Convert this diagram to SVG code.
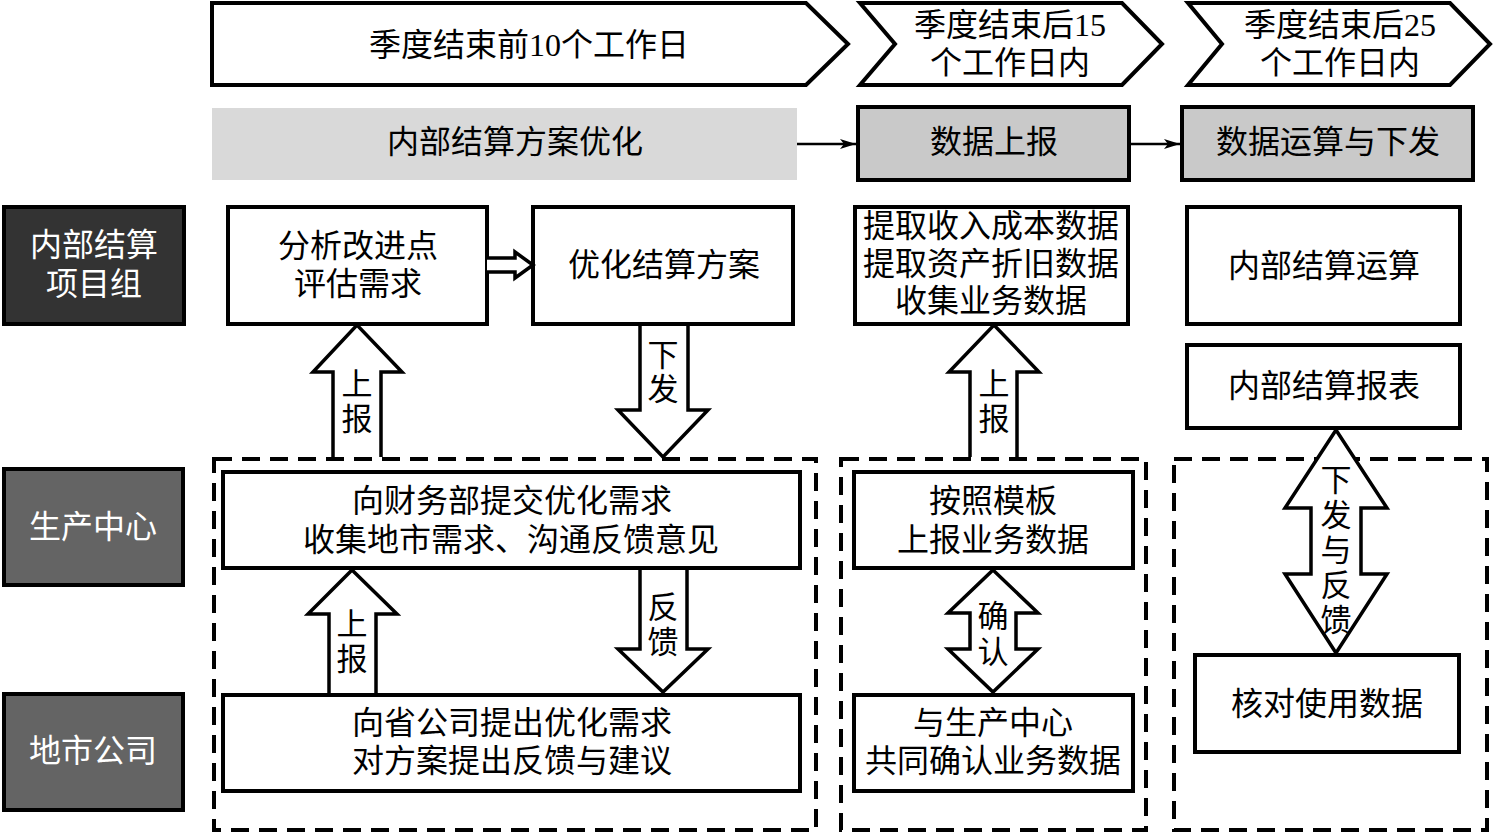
<svg xmlns="http://www.w3.org/2000/svg" width="1493" height="835" viewBox="0 0 1493 835">
<style>
text{font-family:"Liberation Serif","Noto Sans CJK SC",serif;font-size:32px;text-anchor:middle;fill:#000}
text.a{font-size:31px}
.w{fill:#fff}
.box{fill:#fff;stroke:#000;stroke-width:4}
.chev{fill:#fff;stroke:#000;stroke-width:4;stroke-linejoin:miter}
.phase{fill:#c9c9c9;stroke:#000;stroke-width:4}
.lane{stroke:#000;stroke-width:4}
.dash{fill:none;stroke:#000;stroke-width:4;stroke-dasharray:18 10}
.blk{fill:#fff;stroke:#000;stroke-width:3.5;stroke-linejoin:miter}
.ln{stroke:#000;stroke-width:2.5;fill:none}
</style>
<defs>
<marker id="ah" viewBox="0 0 16 12" refX="16" refY="6" markerWidth="16" markerHeight="12" markerUnits="userSpaceOnUse" orient="auto">
<path d="M0,1 L16,6 L0,11 L4,6 Z" fill="#000"/>
</marker>
</defs>
<rect width="1493" height="835" fill="#fff"/>

<g id="chevron1"><polygon class="chev" points="212,3 806,3 848,44 806,85 212,85"/><text x="529" y="56">季度结束前10个工作日</text></g>
<g id="chevron2"><polygon class="chev" points="860,3 1122,3 1162,44 1122,85 860,85 895,44"/><text x="1010" y="36">季度结束后15</text><text x="1010" y="74">个工作日内</text></g>
<g id="chevron3"><polygon class="chev" points="1188,3 1450,3 1490,44 1450,85 1188,85 1222,44"/><text x="1340" y="36">季度结束后25</text><text x="1340" y="74">个工作日内</text></g>

<g id="phase1"><rect x="212" y="108" width="585" height="72" fill="#d9d9d9"/><text x="515" y="153">内部结算方案优化</text></g>
<g id="phase2"><rect class="phase" x="858" y="107" width="271" height="73"/><text x="994" y="153">数据上报</text></g>
<g id="phase3"><rect class="phase" x="1182" y="107" width="291" height="73"/><text x="1328" y="153">数据运算与下发</text></g>

<g id="lane1"><rect class="lane" x="4" y="207" width="180" height="117" fill="#333"/><text class="w" x="94" y="256">内部结算</text><text class="w" x="94" y="295">项目组</text></g>
<g id="lane2"><rect class="lane" x="4" y="469" width="179" height="116" fill="#646464"/><text class="w" x="93" y="538">生产中心</text></g>
<g id="lane3"><rect class="lane" x="4" y="694" width="179" height="116" fill="#646464"/><text class="w" x="93" y="762">地市公司</text></g>

<g id="groupA"><rect class="dash" x="214" y="459" width="602" height="371"/></g>
<g id="groupB"><rect class="dash" x="841" y="459" width="305" height="371"/></g>
<g id="groupC"><rect class="dash" x="1174" y="459" width="313" height="371"/></g>

<g id="analyze"><rect class="box" x="228" y="207" width="259" height="117"/><text x="358" y="257">分析改进点</text><text x="358" y="295">评估需求</text></g>
<g id="optimize"><rect class="box" x="533" y="207" width="260" height="117"/><text x="664" y="276">优化结算方案</text></g>
<g id="extract"><rect class="box" x="855" y="207" width="273" height="117"/><text x="991" y="237">提取收入成本数据</text><text x="991" y="275">提取资产折旧数据</text><text x="991" y="312">收集业务数据</text></g>
<g id="calc"><rect class="box" x="1187" y="207" width="273" height="117"/><text x="1324" y="277">内部结算运算</text></g>
<g id="report"><rect class="box" x="1187" y="345" width="273" height="83"/><text x="1324" y="397">内部结算报表</text></g>
<g id="submit"><rect class="box" x="223" y="472" width="577" height="96"/><text x="512" y="512">向财务部提交优化需求</text><text x="511" y="551">收集地市需求、沟通反馈意见</text></g>
<g id="propose"><rect class="box" x="223" y="695" width="577" height="96"/><text x="512" y="734">向省公司提出优化需求</text><text x="512" y="772">对方案提出反馈与建议</text></g>
<g id="template"><rect class="box" x="854" y="472" width="279" height="96"/><text x="993" y="512">按照模板</text><text x="993" y="551">上报业务数据</text></g>
<g id="confirmdata"><rect class="box" x="854" y="695" width="279" height="96"/><text x="993" y="734">与生产中心</text><text x="993" y="772">共同确认业务数据</text></g>
<g id="verify"><rect class="box" x="1195" y="655" width="264" height="97"/><text x="1327" y="715">核对使用数据</text></g>

<g id="connectors">
<line class="ln" x1="797" y1="144" x2="856" y2="144" marker-end="url(#ah)"/>
<line class="ln" x1="1129" y1="144" x2="1180" y2="144" marker-end="url(#ah)"/>
<path class="blk" d="M487,258 L515,258 L515,252 L533,265 L515,278 L515,272 L487,272" stroke-width="2.5"/>

<path class="blk" d="M333,457 L333,372 L313,372 L357,325 L402,372 L381,372 L381,457"/>
<text class="a" x="357" y="395">上</text><text class="a" x="357" y="430">报</text>

<path class="blk" d="M640,326 L640,410 L618,410 L663,457 L708,410 L688,410 L688,326"/>
<text class="a" x="663" y="366">下</text><text class="a" x="663" y="400">发</text>

<path class="blk" d="M970,457 L970,372 L949,372 L994,325 L1039,372 L1017,372 L1017,457"/>
<text class="a" x="994" y="395">上</text><text class="a" x="994" y="430">报</text>

<path class="blk" d="M329,693 L329,614 L308,614 L352,570 L397,614 L376,614 L376,693"/>
<text class="a" x="352" y="635">上</text><text class="a" x="352" y="670">报</text>

<path class="blk" d="M640,570 L640,649 L618,649 L663,692 L708,649 L687,649 L687,570"/>
<text class="a" x="663" y="618">反</text><text class="a" x="663" y="653">馈</text>

<path class="blk" d="M993,570 L1038,613 L1016,613 L1016,649 L1038,649 L993,692 L948,649 L970,649 L970,613 L948,613 Z"/>
<text class="a" x="993" y="627">确</text><text class="a" x="993" y="663">认</text>

<path class="blk" d="M1336,430 L1387,508 L1361,508 L1361,574 L1387,574 L1336,653 L1285,574 L1311,574 L1311,508 L1285,508 Z"/>
<text class="a" x="1336" y="491">下</text><text class="a" x="1336" y="526">发</text><text class="a" x="1336" y="561">与</text><text class="a" x="1336" y="596">反</text><text class="a" x="1336" y="631">馈</text>
</g>
</svg>
